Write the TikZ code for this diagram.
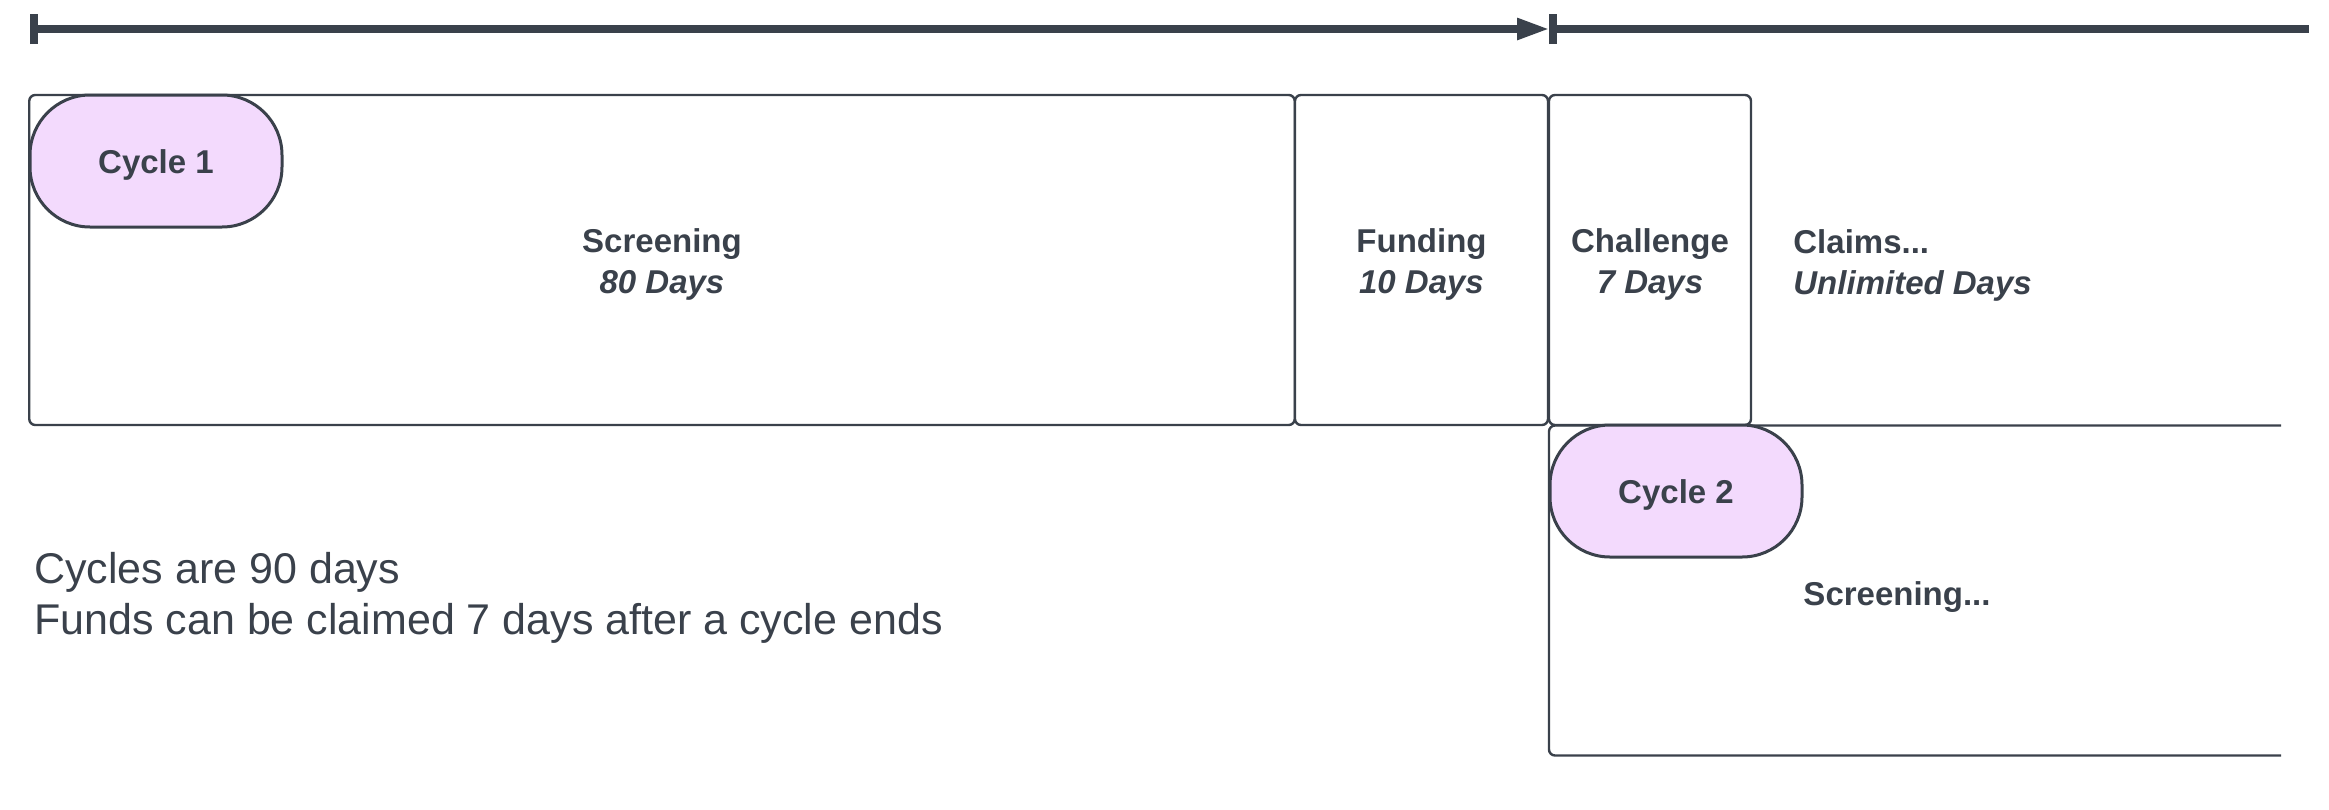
\documentclass[tikz,border=0pt]{standalone}
\usepackage{fontspec}
\setmainfont{Liberation Sans}
\usetikzlibrary{arrows.meta}
\definecolor{ink}{HTML}{3A414B}
\definecolor{lilac}{HTML}{F3DAFD}
\tikzset{
  phase/.style={draw=ink,line width=1.2pt,rounded corners=3pt,inner sep=0pt},
  pill/.style={draw=ink,fill=lilac,line width=1.5pt,rounded corners=30pt,
    minimum width=126pt,minimum height=66pt,text=ink,
    text height=16.2pt,text depth=3.5pt,
    font=\fontsize{16.5}{20}\selectfont\bfseries},
  lbl/.style={text=ink,yshift=-2.2pt,font=\fontsize{16.5}{20.8}\selectfont\bfseries},
  note/.style={text=ink,align=left,font=\fontsize{21.5}{25.5}\selectfont},
}
\begin{document}
\begin{tikzpicture}[x=0.5pt,y=-0.5pt,line join=round]
  \useasboundingbox (0,0) rectangle (2329,809);
  % timeline
  \coordinate (t0) at (30,29);
  \coordinate (t1) at (1550,29);
  \coordinate (t2) at (1549,29);
  \coordinate (t3) at (2309,29);
  \draw[ink,line width=4pt,{Bar[width=15pt]}-{Triangle[length=16.5pt,width=10pt]}] (t0) -- (t1);
  \draw[ink,line width=4pt,{Bar[width=15pt]}-] (t2) -- (t3);
  % cycle 1 phases
  \node[phase,minimum width=632.75pt,minimum height=165pt] (screening) at (662,260) {};
  \node[phase,minimum width=126.5pt,minimum height=165pt] (funding) at (1421.5,260) {};
  \node[phase,minimum width=101pt,minimum height=165pt] (challenge) at (1650,260) {};
  \node[lbl,align=center] (screentxt) at (screening.center) {Screening\\\textit{80 Days}};
  \node[lbl,align=center] (fundtxt) at (funding.center) {Funding\\\textit{10 Days}};
  \node[lbl,align=center] (chaltxt) at (challenge.center) {Challenge\\\textit{7 Days}};
  \node[lbl,align=left,anchor=west,inner sep=0pt] (claims) at (1793,261) {Claims...\\\textit{Unlimited Days}};
  % cycle 2
  \coordinate (c2a) at (2281,425.5);
  \coordinate (c2b) at (1549,425.5);
  \coordinate (c2c) at (1549,755.5);
  \coordinate (c2d) at (2281,755.5);
  \draw[ink,line width=1.2pt,rounded corners=3pt] (c2a) -- (c2b) -- (c2c) -- (c2d);
  \node[lbl] (screen2) at (1897,593) {Screening...};
  \node[pill] (cyclea) at (156,161) {Cycle 1};
  \node[pill] (cycleb) at (1676,491) {Cycle 2};
  % notes
  \node[note,anchor=west,inner sep=0pt] (notes) at (34,598) {Cycles are 90 days\\Funds can be claimed 7 days after a cycle ends};
\end{tikzpicture}
\end{document}
